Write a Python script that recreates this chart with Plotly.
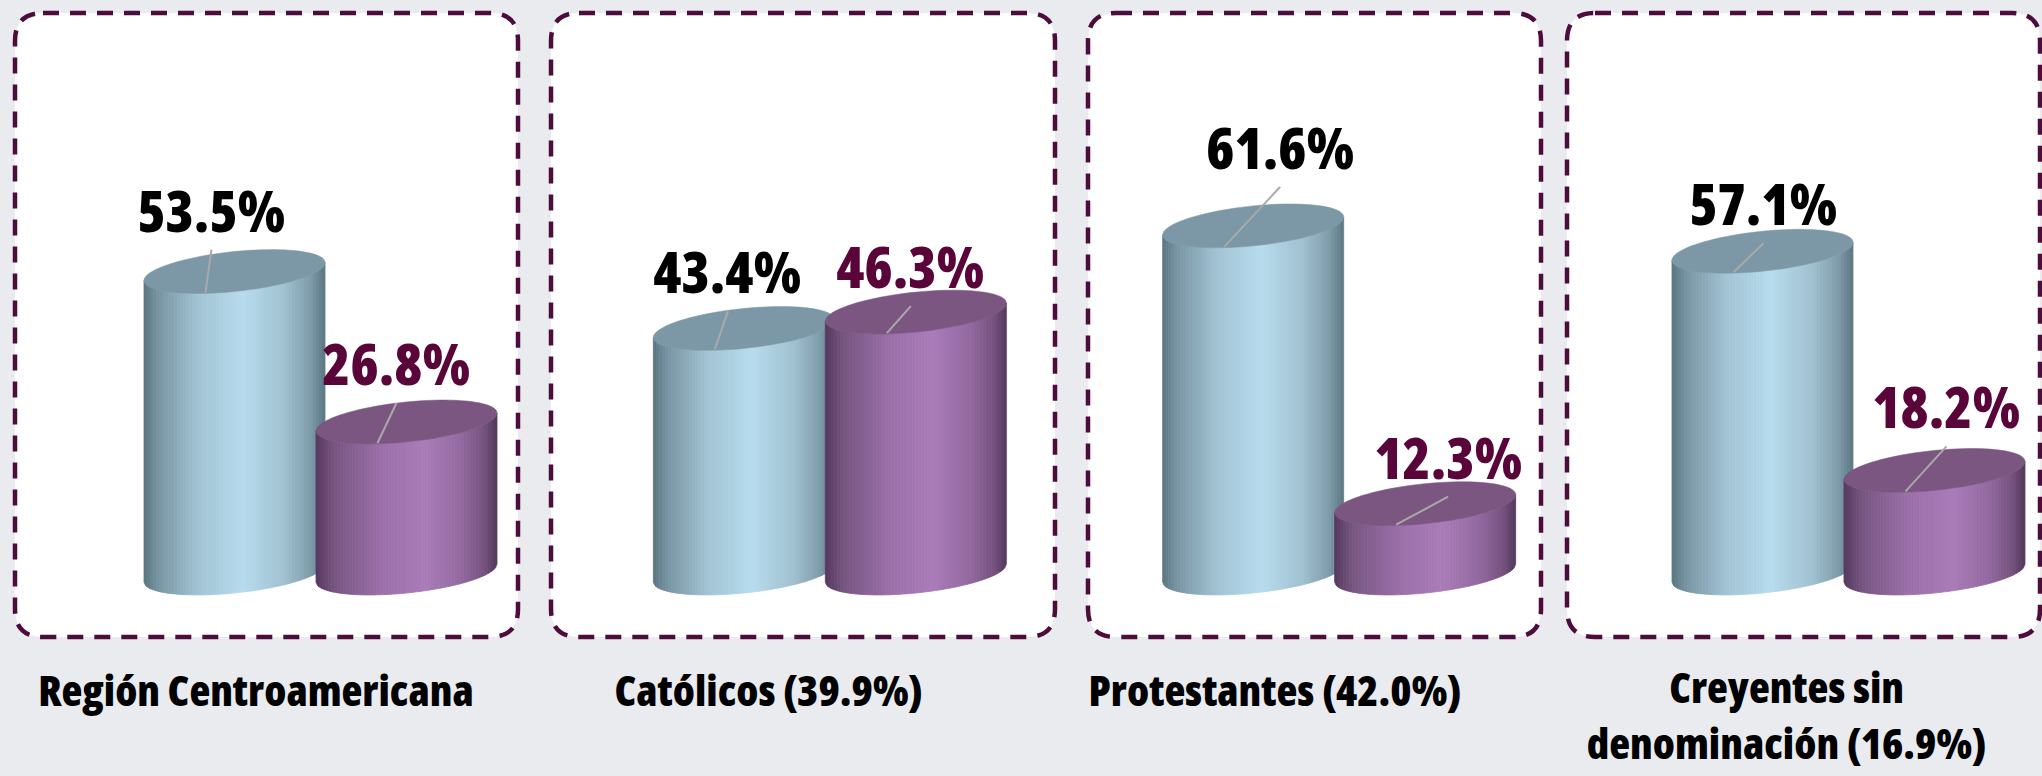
import numpy as np
import plotly.graph_objects as go

# ---------------- data ----------------
CATEGORIES = [
    "Región Centroamericana",
    "Católicos (39.9%)",
    "Protestantes (42.0%)",
    "Creyentes sin<br>denominación (16.9%)",
]
SERIES_NAMES = ["Serie 1", "Serie 2"]
SERIES_A = [53.5, 43.4, 61.6, 57.1]   # light blue cylinders
SERIES_B = [26.8, 46.3, 12.3, 18.2]   # purple cylinders

# ---------------- layout constants (pixels) ----------------
W, H = 2042, 776
PXY = 5.635          # pixels per percentage point
Y0_PX = 573          # pixel row of the value 0 (centre of bottom ellipse)
PXG = 509.33         # pixels per category step
X0_PX = 320.5        # pixel column of first category centre
HALF_GAP_PX = 86     # offset of each series from category centre
RAD_A_PX = 90.5      # cylinder horizontal radius
RAD_B_PX = 20.0      # ellipse vertical radius
SHEAR_PX = 9.0       # tilt of the ellipses

# label nudges relative to top-centre of each cylinder (px, screen coords)
LABEL_NUDGE_A = [(-23, -62), (-16, -57), (27, -79), (1, -48)]
LABEL_NUDGE_B = [(-10, -59), (-5, -46), (23, -47), (12, -64)]

BOXES_PX = [(15, 13, 518, 637), (551, 13, 1055, 637), (1088, 13, 1541, 637), (1567, 13, 2040, 637)]
CAT_LABEL_X_PX = [256, 768, 1275, 1786]
CAT_LABEL_TOP_PX = [658, 658, 658, 655]

BLUE_STOPS = [(0.0, "#5a7582"), (0.08, "#7895a3"), (0.3, "#a2c3d3"), (0.55, "#b7dcee"),
              (0.78, "#a0c0cf"), (0.92, "#7f9cab"), (1.0, "#5d7784")]
PURPLE_STOPS = [(0.0, "#55385f"), (0.1, "#76557f"), (0.35, "#9a6fa8"), (0.6, "#aa7cb8"),
                (0.8, "#9369a0"), (0.93, "#76537f"), (1.0, "#53395c")]
BLUE_TOP = "#7c98a6"
PURPLE_TOP = "#7a5681"
BLUE_TXT = "#000000"
PURPLE_TXT = "#5a053a"
BORDER = "#4d0c3b"
FONT = "Open Sans, Roboto, sans-serif"


def hex2rgb(h):
    h = h.lstrip("#")
    return np.array([int(h[i:i + 2], 16) for i in (0, 2, 4)], dtype=float)


def grad(stops, t):
    for (t0, c0), (t1, c1) in zip(stops[:-1], stops[1:]):
        if t0 <= t <= t1:
            f = (t - t0) / (t1 - t0) if t1 > t0 else 0
            c = hex2rgb(c0) * (1 - f) + hex2rgb(c1) * f
            return "rgb(%d,%d,%d)" % tuple(np.round(c))
    return stops[-1][1]


# conversions pixel offsets -> data units
def dxu(px):
    return px / PXG


def dyu(px):
    return px / PXY


A = dxu(RAD_A_PX)
B = dyu(RAD_B_PX)
S = dyu(SHEAR_PX)


def front_curve(cx, base, xs):
    r = np.clip((xs - cx) / A, -1, 1)
    return base - B * np.sqrt(1 - r ** 2) + S * r


shapes = []
annotations = []


def pxx(x):
    return x / W


def pxy(y):
    return 1 - y / H


# dashed rounded panels
R = 28
for (x0, y0, x1, y1) in BOXES_PX:
    p = (f"M {pxx(x0 + R)},{pxy(y0)} L {pxx(x1 - R)},{pxy(y0)} "
         f"Q {pxx(x1)},{pxy(y0)} {pxx(x1)},{pxy(y0 + R)} "
         f"L {pxx(x1)},{pxy(y1 - R)} Q {pxx(x1)},{pxy(y1)} {pxx(x1 - R)},{pxy(y1)} "
         f"L {pxx(x0 + R)},{pxy(y1)} Q {pxx(x0)},{pxy(y1)} {pxx(x0)},{pxy(y1 - R)} "
         f"L {pxx(x0)},{pxy(y0 + R)} Q {pxx(x0)},{pxy(y0)} {pxx(x0 + R)},{pxy(y0)} Z")
    shapes.append(dict(type="path", xref="paper", yref="paper", path=p, fillcolor="white",
                       line=dict(color=BORDER, width=4.5, dash="16px,11px"), layer="below"))

NSTRIP = 60


def cylinder(cx, value, stops, topcol):
    edges = np.linspace(cx - A, cx + A, NSTRIP + 1)
    for k in range(NSTRIP):
        xs = np.linspace(edges[k], edges[k + 1], 3)
        bot = front_curve(cx, 0.0, xs)
        top = front_curve(cx, value, xs)
        col = grad(stops, (k + 0.5) / NSTRIP)
        pts = list(zip(xs, bot)) + list(zip(xs[::-1], top[::-1]))
        path = "M " + " L ".join(f"{x:.5f},{y:.4f}" for x, y in pts) + " Z"
        shapes.append(dict(type="path", xref="x", yref="y", path=path, fillcolor=col,
                           line=dict(color=col, width=0.8)))
    t = np.linspace(0, 2 * np.pi, 90)
    ex = cx + A * np.cos(t)
    ey = value + B * np.sin(t) + S * np.cos(t)
    path = "M " + " L ".join(f"{x:.5f},{y:.4f}" for x, y in zip(ex, ey)) + " Z"
    shapes.append(dict(type="path", xref="x", yref="y", path=path, fillcolor=topcol,
                       line=dict(color=topcol, width=0.5)))


fig = go.Figure()

for i, cat in enumerate(CATEGORIES):
    for j, (vals, stops, topc, txtc, nudges) in enumerate([
            (SERIES_A, BLUE_STOPS, BLUE_TOP, BLUE_TXT, LABEL_NUDGE_A),
            (SERIES_B, PURPLE_STOPS, PURPLE_TOP, PURPLE_TXT, LABEL_NUDGE_B)]):
        v = vals[i]
        cx = i + dxu(HALF_GAP_PX) * (2 * j - 1)
        cylinder(cx, v, stops, topc)
        nx, ny = nudges[i]
        lx = cx + dxu(nx)
        ly = v - dyu(ny)
        # leader line
        shapes.append(dict(type="line", xref="x", yref="y",
                           x0=lx, y0=ly - dyu(40), x1=cx - dxu(29), y1=v - dyu(21),
                           line=dict(color="#a9a9a9", width=2)))
        annotations.append(dict(x=lx, y=ly, xref="x", yref="y", text=f"{v:.1f}%",
                                showarrow=False, xanchor="center", yanchor="middle",
                                font=dict(family=FONT, size=57, color=txtc, weight=800)))

# invisible traces carry the values through the axes (hover)
for j, vals in enumerate([SERIES_A, SERIES_B]):
    fig.add_trace(go.Scatter(
        x=[i + dxu(HALF_GAP_PX) * (2 * j - 1) for i in range(len(CATEGORIES))],
        y=vals, mode="markers", marker=dict(opacity=0), name=SERIES_NAMES[j],
        hoverinfo="text", text=[c.replace("<br>", " ") for c in CATEGORIES], showlegend=False))

for i, cat in enumerate(CATEGORIES):
    annotations.append(dict(x=CAT_LABEL_X_PX[i] / W, y=pxy(CAT_LABEL_TOP_PX[i]), xref="paper", yref="paper",
                            text=cat, showarrow=False, xanchor="center", yanchor="top",
                            align="center",
                            font=dict(family=FONT, size=43, color="#000000", weight=800)))

fig.update_layout(
    width=W, height=H, margin=dict(l=0, r=0, t=0, b=0, pad=0),
    paper_bgcolor="#e9ebef", plot_bgcolor="rgba(0,0,0,0)",
    xaxis=dict(range=[-X0_PX / PXG, (W - X0_PX) / PXG], visible=False, fixedrange=True),
    yaxis=dict(range=[-(H - Y0_PX) / PXY, Y0_PX / PXY], visible=False, fixedrange=True),
    shapes=shapes, annotations=annotations, showlegend=False,
)

JS = """
document.body.style.margin='0';
document.body.style.overflow='hidden';
function condense(){document.querySelectorAll('.annotation-text').forEach(function(e){
  e.style.fontStretch='75%';});}
condense(); setTimeout(condense,50); setTimeout(condense,400);
var gd=document.getElementsByClassName('plotly-graph-div')[0];
if(gd && gd.on){gd.on('plotly_afterplot', condense);}
"""

fig.write_html("out.html", post_script=JS, config={"displayModeBar": False})
